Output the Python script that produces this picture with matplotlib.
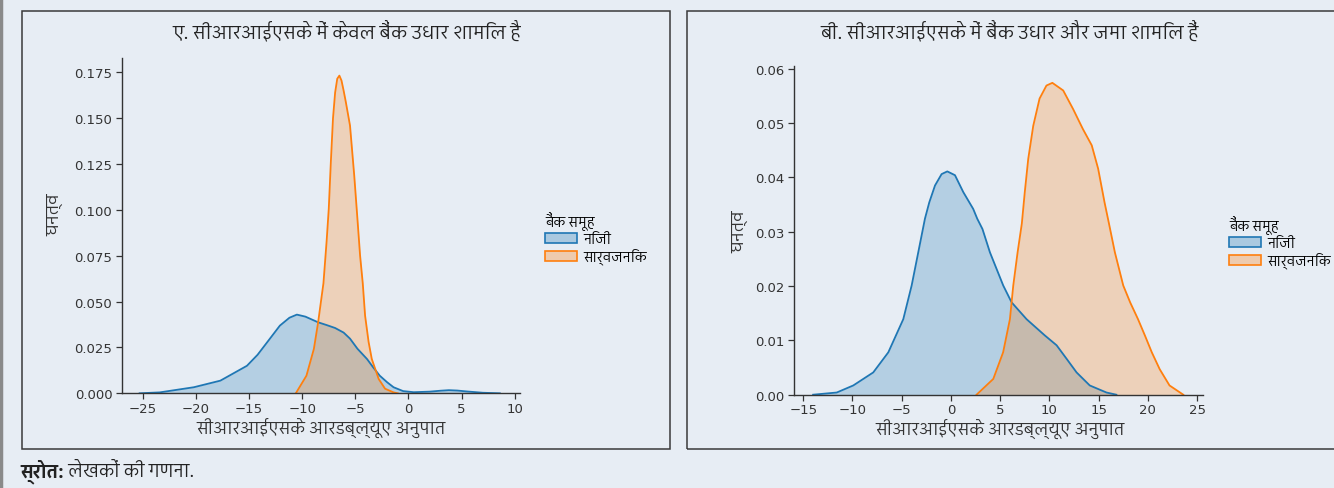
import matplotlib
matplotlib.use("Agg")
import matplotlib.pyplot as plt
from matplotlib import font_manager
from matplotlib.patches import Rectangle, Patch
from matplotlib.lines import Line2D

# Density curves (x = CRISK RWA ratio, y = density)
# Panel A: only bank lending
a_private_x = [-25.3, -23.4, -20.2, -17.7, -15.2, -14.2, -13.3, -12.1, -11.2, -10.5, -9.7, -8.5,
               -7.7, -6.9, -6.1, -5.5, -4.8, -3.9, -3.3, -2.7, -2.0, -1.4, -0.5, 0.5, 2.0, 3.0,
               3.8, 4.6, 5.5, 7.0, 8.6]
a_private_y = [0.0, 0.0005, 0.0033, 0.0069, 0.015, 0.021, 0.0278, 0.0369, 0.0412, 0.0429, 0.0418,
               0.0387, 0.0372, 0.0356, 0.0331, 0.0298, 0.0243, 0.0187, 0.0140, 0.0096, 0.0060,
               0.0033, 0.0012, 0.0006, 0.0009, 0.0014, 0.0017, 0.0015, 0.0010, 0.0003, 0.0]
a_public_x = [-10.6, -9.6, -8.9, -8.5, -8.0, -7.7, -7.5, -7.3, -7.1, -6.9, -6.7, -6.5, -6.3,
              -6.1, -5.9, -5.5, -5.1, -4.8, -4.55, -4.3, -4.08, -3.75, -3.45, -2.8, -2.2, -1.4, -1.0]
a_public_y = [0.0, 0.0096, 0.0242, 0.0387, 0.060, 0.083, 0.1005, 0.1265, 0.150, 0.164, 0.1715,
              0.1732, 0.1705, 0.165, 0.159, 0.146, 0.1186, 0.095, 0.075, 0.060, 0.0423, 0.028,
              0.0187, 0.0078, 0.0025, 0.0005, 0.0]

# Panel B: bank lending and deposits
b_private_x = [-14.0, -11.6, -9.92, -7.89, -6.36, -4.84, -3.99, -3.32, -2.64, -2.2, -1.62, -0.95,
               -0.37, 0.41, 1.25, 2.26, 2.67, 3.2, 3.96, 5.31, 6.16, 7.68, 9.54, 10.73, 11.75,
               12.76, 14.1, 15.8, 16.8]
b_private_y = [0.0, 0.0004, 0.0017, 0.0041, 0.0078, 0.0139, 0.0201, 0.0262, 0.0324, 0.0354, 0.0385,
               0.0406, 0.0411, 0.0404, 0.0373, 0.0342, 0.0324, 0.0305, 0.0262, 0.0201, 0.017,
               0.0139, 0.0109, 0.0091, 0.0066, 0.0041, 0.0017, 0.0004, 0.0]
b_public_x = [2.6, 4.3, 5.3, 5.99, 6.33, 6.77, 7.2, 7.5, 7.85, 8.36, 9.0, 9.7, 10.3, 11.4, 12.4,
              13.4, 14.3, 14.95, 15.6, 16.05, 16.65, 17.5, 18.2, 19.0, 19.7, 20.4, 21.2, 22.2, 23.6]
b_public_y = [0.0, 0.0029, 0.0078, 0.0139, 0.0201, 0.0262, 0.0315, 0.0373, 0.0434, 0.0495, 0.0545,
              0.0569, 0.0574, 0.056, 0.0526, 0.0489, 0.0459, 0.0416, 0.0354, 0.0315, 0.0262,
              0.0201, 0.017, 0.0139, 0.0109, 0.0078, 0.0047, 0.0017, 0.0]

titles = ['ए. सीआरआईएसके में केवल बैंक उधार शामिल है',
          'बी. सीआरआईएसके में बैंक उधार और जमा शामिल हैं']
x_label = 'सीआरआईएसके आरडब्ल्यूए अनुपात'
y_label = 'घनत्व'
legend_title = 'बैंक समूह'
groups = ['निजी', 'सार्वजनिक']
source_bold = 'स्रोत:'
source_rest = ' लेखकों की गणना.'

a_xticks = [-25, -20, -15, -10, -5, 0, 5, 10]
a_yticks = [0.0, 0.025, 0.05, 0.075, 0.1, 0.125, 0.15, 0.175]
b_xticks = [-15, -10, -5, 0, 5, 10, 15, 20, 25]
b_yticks = [0.0, 0.01, 0.02, 0.03, 0.04, 0.05, 0.06]


# pick an installed font that has Devanagari glyphs, preferring sans, non-mono faces
def find_devanagari():
    try:
        from fontTools.ttLib import TTFont
    except ImportError:
        return None
    found = []
    for f in font_manager.fontManager.ttflist:
        if f.name in found:
            continue
        try:
            tt = TTFont(f.fname, fontNumber=0, lazy=True)
            cmap = tt.getBestCmap()
            if cmap and 0x0915 in cmap:
                found.append(f.name)
        except Exception:
            pass
    if not found:
        return None

    def score(n):
        s = 0
        low = n.lower()
        if 'devanagari' in low:
            s -= 4
        if 'sans' in low:
            s -= 2
        if 'mono' in low or 'code' in low:
            s += 5
        if 'serif' in low and 'sans' not in low:
            s += 1
        return s
    return sorted(found, key=score)[0]


deva = find_devanagari()
if deva:
    plt.rcParams['font.family'] = [deva, 'DejaVu Sans']
else:
    plt.rcParams['font.family'] = ['DejaVu Sans']

bg = '#e7edf4'
blue = '#1f77b4'
orange = '#ff7f0e'

fig = plt.figure(figsize=(13.34, 4.89), dpi=100, facecolor=bg)
renderer = fig.canvas.get_renderer()

# scale Devanagari text so the first title matches its width in the reference (~348 px)
probe = fig.text(0, 0, titles[0], fontsize=12.5)
w = probe.get_window_extent(renderer=renderer).width
probe.remove()
k = min(1.1, 348.0 / w) if w > 0 else 1.0

# panel frames and left border
fig.patches.append(Rectangle((22 / 1334, 39 / 489), 648 / 1334, 438 / 489, transform=fig.transFigure,
                             fill=False, edgecolor='#3a3a3a', lw=1.1))
fig.patches.append(Rectangle((687 / 1334, 39 / 489), 660 / 1334, 438 / 489, transform=fig.transFigure,
                             fill=False, edgecolor='#3a3a3a', lw=1.1))
fig.lines.append(Line2D([1.5 / 1334, 1.5 / 1334], [0, 1], transform=fig.transFigure,
                        color='#8a8a8a', lw=2.5))

ax1 = fig.add_axes([122 / 1334, (489 - 394.3) / 489, 398 / 1334, 335.3 / 489], facecolor=bg)
ax2 = fig.add_axes([794 / 1334, (489 - 395.7) / 489, 409 / 1334, 328.7 / 489], facecolor=bg)

panels = [
    (ax1, a_private_x, a_private_y, a_public_x, a_public_y, (-26.96, 10.5), (0, 0.1828),
     a_xticks, a_yticks, '{:.3f}', (55, 215), (321, 418), (545, 212)),
    (ax2, b_private_x, b_private_y, b_public_x, b_public_y, (-15.94, 25.6), (0, 0.0605),
     b_xticks, b_yticks, '{:.2f}', (740, 232), (1000, 419), (1229, 216)),
]

for i, (ax, px, py, ux, uy, xl, yl, xt, yt, fmt, ylp, xlp, leg) in enumerate(panels):
    ax.fill_between(px, py, color=blue, alpha=0.25, lw=0)
    ax.plot(px, py, color=blue, lw=1.3)
    ax.fill_between(ux, uy, color=orange, alpha=0.25, lw=0)
    ax.plot(ux, uy, color=orange, lw=1.3)

    ax.set_xlim(*xl)
    ax.set_ylim(*yl)
    ax.set_xticks(xt)
    ax.set_yticks(yt)
    ax.set_xticklabels(['\u2212' + str(-v) if v < 0 else str(v) for v in xt], family='DejaVu Sans')
    ax.set_yticklabels([fmt.format(v) for v in yt], family='DejaVu Sans')
    ax.tick_params(labelsize=9.5, colors='#333333', length=4, width=0.9, direction='out', pad=3)
    ax.tick_params(axis='x', pad=2)

    for s in ['top', 'right']:
        ax.spines[s].set_visible(False)
    for s in ['left', 'bottom']:
        ax.spines[s].set_color('#333333')
        ax.spines[s].set_linewidth(1.0)

    ax.set_xlabel(x_label, fontsize=11.5 * k, color='#333333', va='top')
    ax.xaxis.set_label_coords(xlp[0] / 1334, 1 - xlp[1] / 489, transform=fig.transFigure)
    ax.set_ylabel(y_label, fontsize=11.5 * k, color='#333333', va='center')
    ax.yaxis.set_label_coords(ylp[0] / 1334, 1 - ylp[1] / 489, transform=fig.transFigure)

    handles = [Patch(facecolor=(0.122, 0.467, 0.706, 0.3), edgecolor=blue, lw=1.2),
               Patch(facecolor=(1.0, 0.498, 0.055, 0.3), edgecolor=orange, lw=1.2)]
    ax.legend(handles, groups, title=legend_title, loc='upper left',
              bbox_to_anchor=(leg[0] / 1334, 1 - leg[1] / 489), bbox_transform=fig.transFigure,
              frameon=False, fontsize=9.3 * k, title_fontsize=9.3 * k, handlelength=2.3,
              handleheight=0.75, handletextpad=0.5, labelspacing=0.15, borderaxespad=0,
              borderpad=0, alignment='left')
    fig.text([347, 1010][i] / 1334, 1 - 33 / 489, titles[i], ha='center', va='center',
             fontsize=12.5 * k, color='#222222')

t = fig.text(20 / 1334, 1 - 472 / 489, source_bold, ha='left', va='center', fontsize=12 * k,
             fontweight='bold', color='#222222')
plt.annotate(source_rest, xy=(1, 0.5), xycoords=t, va='center', ha='left', fontsize=12 * k,
             color='#222222', annotation_clip=False)

fig.savefig('out.png', dpi=100, facecolor=bg)
